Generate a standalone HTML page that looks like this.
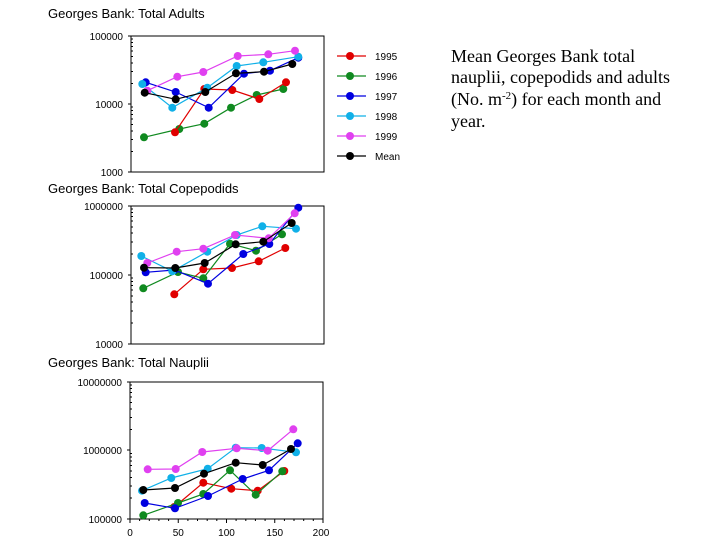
<!DOCTYPE html>
<html><head><meta charset="utf-8"><style>
html,body{margin:0;padding:0;background:#fff;}
svg{display:block;}
.t{font-family:"Liberation Sans",sans-serif;font-size:13px;fill:#000;}
.s{font-family:"Liberation Sans",sans-serif;font-size:10px;fill:#000;}
.r{font-family:"Liberation Serif",serif;font-size:18px;fill:#000;}
polyline{fill:none;stroke-width:1.2;}
</style></head><body>
<svg width="720" height="540" viewBox="0 0 720 540" xmlns="http://www.w3.org/2000/svg">
<defs>
<marker id="mr" markerUnits="userSpaceOnUse" markerWidth="10" markerHeight="10" refX="5" refY="5"><circle cx="5" cy="5" r="4" fill="#e00000"/></marker>
<marker id="mg" markerUnits="userSpaceOnUse" markerWidth="10" markerHeight="10" refX="5" refY="5"><circle cx="5" cy="5" r="4" fill="#108a20"/></marker>
<marker id="mb" markerUnits="userSpaceOnUse" markerWidth="10" markerHeight="10" refX="5" refY="5"><circle cx="5" cy="5" r="4" fill="#0000e0"/></marker>
<marker id="mc" markerUnits="userSpaceOnUse" markerWidth="10" markerHeight="10" refX="5" refY="5"><circle cx="5" cy="5" r="4" fill="#10b0e8"/></marker>
<marker id="mm" markerUnits="userSpaceOnUse" markerWidth="10" markerHeight="10" refX="5" refY="5"><circle cx="5" cy="5" r="4" fill="#e040f0"/></marker>
<marker id="mk" markerUnits="userSpaceOnUse" markerWidth="10" markerHeight="10" refX="5" refY="5"><circle cx="5" cy="5" r="4" fill="#000"/></marker>
</defs>
<style>
.R{stroke:#e00000;marker-start:url(#mr);marker-mid:url(#mr);marker-end:url(#mr)}
.G{stroke:#108a20;marker-start:url(#mg);marker-mid:url(#mg);marker-end:url(#mg)}
.B{stroke:#0000e0;marker-start:url(#mb);marker-mid:url(#mb);marker-end:url(#mb)}
.C{stroke:#10b0e8;marker-start:url(#mc);marker-mid:url(#mc);marker-end:url(#mc)}
.M{stroke:#e040f0;marker-start:url(#mm);marker-mid:url(#mm);marker-end:url(#mm)}
.K{stroke:#000;marker-start:url(#mk);marker-mid:url(#mk);marker-end:url(#mk)}
</style>

<!-- Panel 1 -->
<text class="t" x="48" y="18">Georges Bank: Total Adults</text>
<rect x="131" y="36" width="193" height="136" fill="none" stroke="#000" stroke-width="1"/>
<g stroke="#000" stroke-width="1">
<line x1="128" y1="36" x2="131" y2="36"/><line x1="128" y1="104" x2="131" y2="104"/><line x1="128" y1="172" x2="131" y2="172"/>
<line x1="131" y1="83.5" x2="133" y2="83.5"/><line x1="131" y1="71.5" x2="133" y2="71.5"/><line x1="131" y1="63" x2="133" y2="63"/><line x1="131" y1="56.5" x2="133" y2="56.5"/><line x1="131" y1="51" x2="133" y2="51"/><line x1="131" y1="46.5" x2="133" y2="46.5"/><line x1="131" y1="42.5" x2="133" y2="42.5"/><line x1="131" y1="39" x2="133" y2="39"/>
<line x1="131" y1="151.5" x2="133" y2="151.5"/><line x1="131" y1="139.5" x2="133" y2="139.5"/><line x1="131" y1="131" x2="133" y2="131"/><line x1="131" y1="124.5" x2="133" y2="124.5"/><line x1="131" y1="119" x2="133" y2="119"/><line x1="131" y1="114.5" x2="133" y2="114.5"/><line x1="131" y1="110.5" x2="133" y2="110.5"/><line x1="131" y1="107" x2="133" y2="107"/>
</g>
<text class="s" x="123" y="40" text-anchor="end">100000</text>
<text class="s" x="123" y="108" text-anchor="end">10000</text>
<text class="s" x="123" y="176" text-anchor="end">1000</text>
<polyline class="G" points="144,137.3 179.3,129 204.3,123.7 231,107.7 256.7,95 283.3,89"/>
<polyline class="R" points="175,132.3 204.3,89 232.3,90 259.3,99 286,82.3"/>
<polyline class="B" points="145.7,82.3 175.7,92 208.7,107.7 244,73.7 270,70.7 298.3,57.7"/>
<polyline class="C" points="142.3,84 172.3,107.7 207.3,87.7 236.7,66 263.3,62.3 298.3,56.7"/>
<polyline class="M" points="147.3,90.7 177.3,76.7 203.3,72 237.7,56 268.3,54.3 295,50.7"/>
<polyline class="K" points="144.7,92.7 175.7,99.3 205.3,92 236,73.3 264,71.7 292.3,64"/>

<!-- Legend -->
<g font-family="Liberation Sans,sans-serif" font-size="10">
<polyline class="R" points="337,56 350,56 366,56" style="marker-start:none;marker-end:none"/><text x="375" y="60">1995</text>
<polyline class="G" points="337,76 350,76 366,76" style="marker-start:none;marker-end:none"/><text x="375" y="80">1996</text>
<polyline class="B" points="337,96 350,96 366,96" style="marker-start:none;marker-end:none"/><text x="375" y="100">1997</text>
<polyline class="C" points="337,116 350,116 366,116" style="marker-start:none;marker-end:none"/><text x="375" y="120">1998</text>
<polyline class="M" points="337,136 350,136 366,136" style="marker-start:none;marker-end:none"/><text x="375" y="140">1999</text>
<polyline class="K" points="337,156 350,156 366,156" style="marker-start:none;marker-end:none"/><text x="375" y="160">Mean</text>
</g>

<text class="r" x="451" y="62">Mean Georges Bank total</text>
<text class="r" x="451" y="83">nauplii, copepodids and adults</text>
<text class="r" x="451" y="105">(No. m<tspan font-size="11" dy="-6">-2</tspan><tspan dy="6">) for each month and</tspan></text>
<text class="r" x="451" y="127">year.</text>

<!-- Panel 2 -->
<text class="t" x="48" y="193">Georges Bank: Total Copepodids</text>
<rect x="131" y="206" width="193" height="138" fill="none" stroke="#000" stroke-width="1"/>
<g stroke="#000" stroke-width="1">
<line x1="128" y1="206" x2="131" y2="206"/><line x1="128" y1="275" x2="131" y2="275"/><line x1="128" y1="344" x2="131" y2="344"/>
<line x1="131" y1="254" x2="133" y2="254"/><line x1="131" y1="242" x2="133" y2="242"/><line x1="131" y1="233" x2="133" y2="233"/><line x1="131" y1="227" x2="133" y2="227"/><line x1="131" y1="221" x2="133" y2="221"/><line x1="131" y1="216.5" x2="133" y2="216.5"/><line x1="131" y1="212.5" x2="133" y2="212.5"/><line x1="131" y1="209" x2="133" y2="209"/>
<line x1="131" y1="323" x2="133" y2="323"/><line x1="131" y1="311" x2="133" y2="311"/><line x1="131" y1="302" x2="133" y2="302"/><line x1="131" y1="296" x2="133" y2="296"/><line x1="131" y1="290" x2="133" y2="290"/><line x1="131" y1="285.5" x2="133" y2="285.5"/><line x1="131" y1="281.5" x2="133" y2="281.5"/><line x1="131" y1="278" x2="133" y2="278"/>
</g>
<text class="s" x="123" y="210" text-anchor="end">1000000</text>
<text class="s" x="123" y="279" text-anchor="end">100000</text>
<text class="s" x="123" y="348" text-anchor="end">10000</text>
<polyline class="R" points="174.3,294.3 203.3,269.3 232,268 258.7,261.3 285.3,248"/>
<polyline class="G" points="143.3,288.3 178,272 203.3,278.3 230,243.7 256,250.7 282,234.3"/>
<polyline class="B" points="145.7,272.3 174.3,270 208,283.7 243.3,254 269.3,244 298.3,207.7"/>
<polyline class="C" points="141.3,256 172.3,271.3 207.3,251.7 236.7,235 262.3,226.3 296,228.7"/>
<polyline class="M" points="147.3,263 176.7,251.7 203.3,248.7 235,235 268.7,238.3 294.7,213.3"/>
<polyline class="K" points="144,267.7 175.3,268 204.7,263 235.7,244.3 263.3,241.7 291.7,223"/>

<!-- Panel 3 -->
<text class="t" x="48" y="367">Georges Bank: Total Nauplii</text>
<rect x="130" y="382" width="193" height="137" fill="none" stroke="#000" stroke-width="1"/>
<g stroke="#000" stroke-width="1">
<line x1="127" y1="382" x2="130" y2="382"/><line x1="127" y1="450" x2="130" y2="450"/><line x1="127" y1="519" x2="130" y2="519"/>
<line x1="130" y1="429.5" x2="132" y2="429.5"/><line x1="130" y1="417.5" x2="132" y2="417.5"/><line x1="130" y1="409" x2="132" y2="409"/><line x1="130" y1="402.5" x2="132" y2="402.5"/><line x1="130" y1="397" x2="132" y2="397"/><line x1="130" y1="392.5" x2="132" y2="392.5"/><line x1="130" y1="388.5" x2="132" y2="388.5"/><line x1="130" y1="385" x2="132" y2="385"/>
<line x1="130" y1="498" x2="132" y2="498"/><line x1="130" y1="486" x2="132" y2="486"/><line x1="130" y1="477.5" x2="132" y2="477.5"/><line x1="130" y1="471" x2="132" y2="471"/><line x1="130" y1="465.5" x2="132" y2="465.5"/><line x1="130" y1="461" x2="132" y2="461"/><line x1="130" y1="457" x2="132" y2="457"/><line x1="130" y1="453.5" x2="132" y2="453.5"/>
<line x1="130" y1="519" x2="130" y2="523"/><line x1="178.25" y1="519" x2="178.25" y2="523"/><line x1="226.5" y1="519" x2="226.5" y2="523"/><line x1="274.75" y1="519" x2="274.75" y2="523"/><line x1="323" y1="519" x2="323" y2="523"/>
<line x1="139.6" y1="519" x2="139.6" y2="521"/><line x1="149.3" y1="519" x2="149.3" y2="521"/><line x1="158.9" y1="519" x2="158.9" y2="521"/><line x1="168.6" y1="519" x2="168.6" y2="521"/>
<line x1="187.9" y1="519" x2="187.9" y2="521"/><line x1="197.5" y1="519" x2="197.5" y2="521"/><line x1="207.2" y1="519" x2="207.2" y2="521"/><line x1="216.8" y1="519" x2="216.8" y2="521"/>
<line x1="236.1" y1="519" x2="236.1" y2="521"/><line x1="245.8" y1="519" x2="245.8" y2="521"/><line x1="255.4" y1="519" x2="255.4" y2="521"/><line x1="265.1" y1="519" x2="265.1" y2="521"/>
<line x1="284.4" y1="519" x2="284.4" y2="521"/><line x1="294" y1="519" x2="294" y2="521"/><line x1="303.7" y1="519" x2="303.7" y2="521"/><line x1="313.3" y1="519" x2="313.3" y2="521"/>
</g>
<text class="s" x="122" y="386" text-anchor="end">10000000</text>
<text class="s" x="122" y="454" text-anchor="end">1000000</text>
<text class="s" x="122" y="523" text-anchor="end">100000</text>
<text class="s" x="130" y="536" text-anchor="middle">0</text>
<text class="s" x="178.25" y="536" text-anchor="middle">50</text>
<text class="s" x="226.5" y="536" text-anchor="middle">100</text>
<text class="s" x="274.75" y="536" text-anchor="middle">150</text>
<text class="s" x="321" y="536" text-anchor="middle">200</text>
<polyline class="R" points="174.3,507 203.3,482.7 231.3,488.7 257.7,490.7 284.3,471"/>
<polyline class="G" points="143.3,515.3 178,503 203.3,494 230,470.3 255.7,494.7 282.3,471.3"/>
<polyline class="B" points="144.7,503 175,508.3 208,496 242.7,479 269,470.3 297.7,443.3"/>
<polyline class="C" points="142,490.7 171.3,478 207.7,468.7 235.7,447.7 261.7,448 296,452.3"/>
<polyline class="M" points="147.7,469.3 175.7,469 202.3,452 236.7,448.3 267.7,450.7 293.3,429.3"/>
<polyline class="K" points="143.3,490 175,488 204,473.7 235.7,462.7 262.7,465 291,449"/>
</svg>
</body></html>
